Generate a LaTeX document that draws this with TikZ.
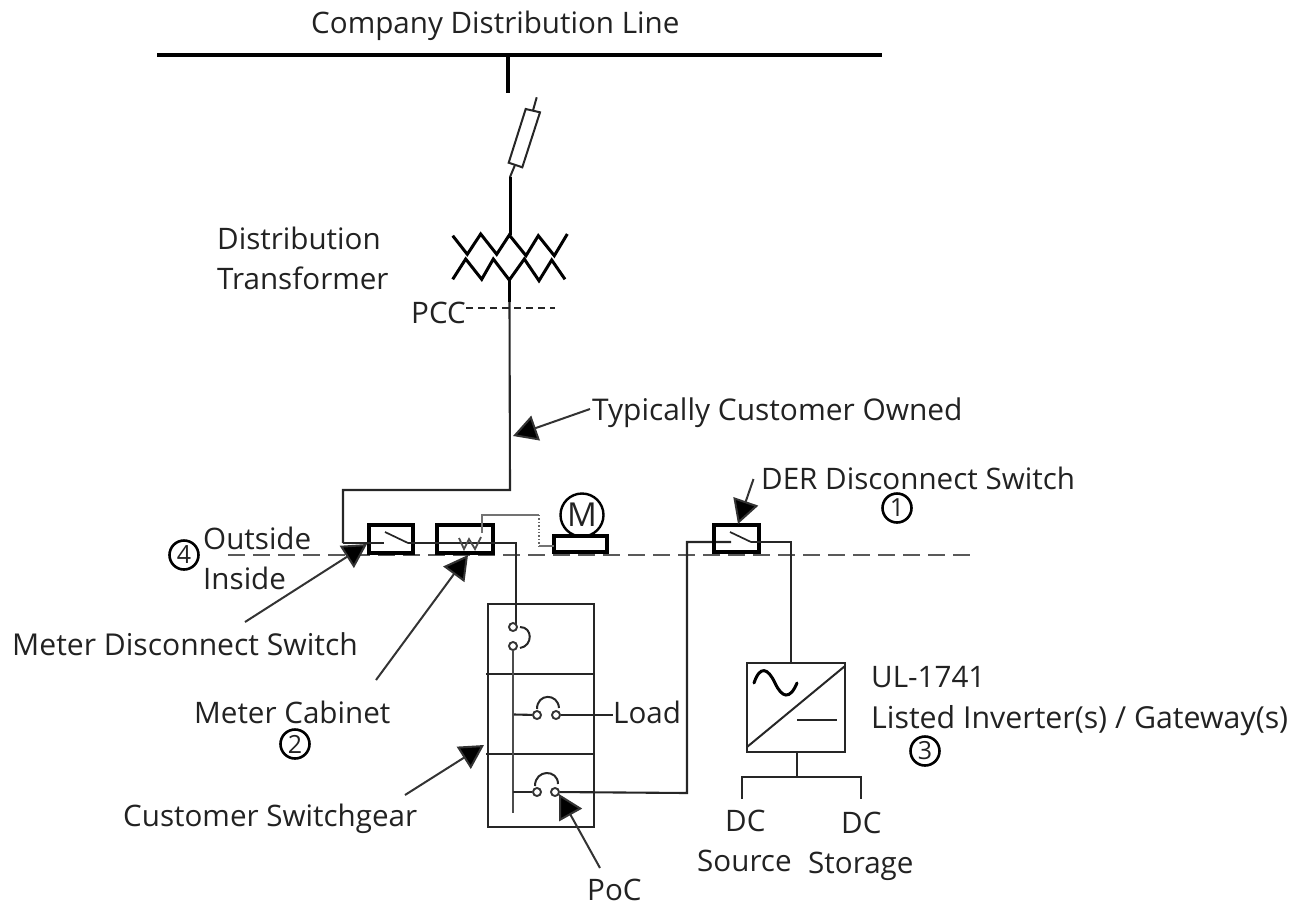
\documentclass[tikz,border=0pt]{standalone}
\usepackage{fontspec}
\setmainfont{Open Sans}
\usetikzlibrary{arrows.meta,calc}
\definecolor{ink}{HTML}{222222}
\tikzset{
  lbl/.style={inner sep=0pt,anchor=base west,text=ink,font=\fontsize{29.6}{34}\selectfont},
  lblw/.style={inner sep=0pt,anchor=base west,text=ink,font=\fontsize{30.1}{34}\selectfont},
  wire/.style={draw=black!85,line width=2.1pt,line join=miter},
  heavy/.style={draw=black,line width=3.2pt},
  thick box/.style={draw=black,line width=3.6pt,fill=none,inner sep=0pt,outer sep=0pt},
  thin box/.style={draw=black!85,line width=2.2pt,inner sep=0pt,outer sep=0pt},
  callout/.style={draw=black!80,line width=2pt,-{Triangle[length=24pt,width=26pt,fill=black]}},
  numc/.style={circle,draw=black,line width=2.6pt,minimum size=29pt,inner sep=0pt,text=ink,font=\fontsize{25}{28}\selectfont},
  term/.style={circle,draw=black!80,line width=1.9pt,minimum size=8pt,inner sep=0pt,fill=white},
}
\begin{document}
\begin{tikzpicture}[x=1pt,y=-1pt]
\useasboundingbox (0,0) rectangle (1302,903);
% labels
\node[lbl] (company) at (311,33) {Company Distribution Line};
\node[lbl] (dist) at (217,249) {Distribution};
\node[lbl] (trans) at (217,289) {Transformer};
\node[lbl] (pcc) at (411,323) {PCC};
\node[lbl,font=\fontsize{29.9}{34}\selectfont] (owned) at (592,420) {Typically Customer Owned};
\node[lbl] (derlbl) at (761,489) {DER Disconnect Switch};
\node[lbl] (outside) at (203,549) {Outside};
\node[lbl] (inside) at (203,589) {Inside};
\node[lblw] (mdslbl) at (12,655) {Meter Disconnect Switch};
\node[lbl] (mclbl) at (194,723) {Meter Cabinet};
\node[lbl] (load) at (613,723) {Load};
\node[lbl] (ul) at (871,687) {UL-1741};
\node[lbl,font=\fontsize{30.3}{34}\selectfont] (listed) at (871,728) {Listed Inverter(s) / Gateway(s)};
\node[lbl] (cslbl) at (123,826) {Customer Switchgear};
\node[lbl] (dc1) at (725,831) {DC};
\node[lbl] (source) at (697,871) {Source};
\node[lbl] (dc2) at (841,833) {DC};
\node[lbl] (storage) at (808,873) {Storage};
\node[lbl] (poclbl) at (587,900) {PoC};
\node[numc] (n1) at (897,508) {1};
\node[numc] (n2) at (295,744) {2};
\node[numc] (n3) at (925,751) {3};
\node[numc] (n4) at (184,555) {4};
% grid line
\coordinate (busL) at (157,55); \coordinate (busR) at (882,55);
\draw[heavy] (busL) -- (busR);
\coordinate (busT) at (508,55); \coordinate (stemB) at (508,93);
\draw[heavy] (busT) -- (stemB);
% fuse
\draw[black!85,line width=2pt,line join=miter] (525.7,109) -- (540,112.3) -- (522.3,167.3) -- (508.7,162.7) -- cycle;
\coordinate (fuseT) at (536.7,97.3); \coordinate (fuseTi) at (533,110.5);
\coordinate (fuseBi) at (515,165); \coordinate (fuseB) at (510,177);
\draw[black!85,line width=2pt] (fuseT) -- (fuseTi);
\draw[black!85,line width=2pt] (fuseBi) -- (fuseB);
\coordinate (xfT) at (510,235);
\draw[black,line width=3pt] (fuseB) -- (xfT);
% transformer
\draw[black,line width=3pt,line join=miter] (452.7,235.7) -- (467.3,254.3) -- (480.7,234) -- (496.7,254.3) -- (509.3,235) -- (526,255.7) -- (538.3,235.7) -- (554.3,255.7) -- (567.3,234);
\draw[black,line width=3pt,line join=miter] (452.7,279.3) -- (465.7,259) -- (481.7,279.3) -- (493.3,259) -- (509.3,280) -- (524.3,259) -- (539,280.7) -- (551.7,260) -- (565,279.3);
\coordinate (xfB) at (509.5,280); \coordinate (xfS) at (509.5,302);
\draw[black,line width=3.2pt] (xfB) -- (xfS);
\coordinate (pccL) at (466,308); \coordinate (pccR) at (555,308);
\draw[black!85,line width=1.5pt,dash pattern=on 7pt off 5pt] (pccL) -- (pccR);
% service
\coordinate (svcCorner) at (510,490); \coordinate (svcL) at (343,490); \coordinate (svcD) at (343,543);
\coordinate (ownedPt) at (513,436);
\draw[wire] (xfS) -- (svcCorner) -- (svcL) -- (svcD);
% outside / inside line
\coordinate (divL) at (228,555); \coordinate (divR) at (972,555);
\draw[draw=black!65,line width=2.8pt,dash pattern=on 17pt off 8pt] (divL) -- (divR);
% meter switch
\node[thick box,minimum width=44pt,minimum height=28pt] (msw) at (391,539) {};
\coordinate (mswA) at (384,543); \coordinate (mswB) at (408,543);
\draw[wire] (svcD) -- (mswA);
\draw[black!85,line width=1.7pt] (385,532) -- (mswB);
% meter cabinet
\node[thick box,minimum width=56pt,minimum height=28pt] (meter) at (465,539) {};
\coordinate (feedC) at (516,543); \coordinate (feedB) at (516,625);
\draw[wire] (mswB) -- (feedC) -- (feedB);
\draw[black!70,line width=1.8pt,line join=miter] (459,538) -- (464,549) -- (469,539) -- (475,549) -- (481,537);
% meter aux
\coordinate (auxA) at (482,533); \coordinate (auxB) at (482,515); \coordinate (auxC) at (539,515); \coordinate (auxD) at (539,546);
\draw[black!55,line width=1.3pt] (auxA) -- (auxB) -- (auxC);
\draw[black!60,line width=1.4pt,dotted] (auxC) -- (auxD);
% motor
\node[thick box,minimum width=53pt,minimum height=16pt] (mbase) at (580.5,544) {};
\draw[black!55,line width=1.3pt] (auxD) -- (mbase.west |- auxD);
\node[circle,draw=black,line width=2.4pt,minimum size=43pt,inner sep=0pt,text=ink,font=\fontsize{33}{36}\selectfont] (motor) at (582,515) {M};
% switchgear
\node[thin box,minimum width=106pt,minimum height=223pt] (gear) at (541,715.5) {};
\coordinate (d1L) at (486,674); \coordinate (d1R) at (594,674);
\coordinate (d2L) at (486,754); \coordinate (d2R) at (594,754);
\draw[wire] (d1L) -- (d1R);
\draw[wire] (d2L) -- (d2R);
% main breaker
\node[term] (b1a) at (513,627) {};
\node[term] (b1b) at (513,646) {};
\draw[black!85,line width=2pt] (520,627) .. controls (533,627) and (533,646) .. (520,648);
% busbar
\coordinate (busbarB) at (513,813);
\draw[black!70,line width=2.6pt] (b1b) -- (busbarB);
% load breaker
\coordinate (t2) at (514,714.5);
\node[term] (b2a) at (537,715) {};
\node[term] (b2b) at (556,715) {};
\draw[wire] (t2) -- (b2a);
\draw[wire] (b2b) -- (load.west |- b2b);
\draw[black!85,line width=2pt] (537,709) .. controls (537,693) and (558,693) .. (559,708);
% DER breaker
\coordinate (t3) at (513,792);
\node[term] (b3a) at (537,792) {};
\node[term] (b3b) at (555,792) {};
\draw[wire] (t3) -- (b3a);
\draw[black!85,line width=2pt] (535,786) .. controls (535,769) and (558,769) .. (558,784);
% DER feed
\coordinate (derC) at (687,793); \coordinate (derT) at (687,542); \coordinate (derA) at (731,542);
\draw[wire] (b3b) -- (derC) -- (derT) -- (derA);
\node[thick box,minimum width=45pt,minimum height=27pt] (dsw) at (736.5,538.5) {};
\coordinate (derB) at (751,542);
\draw[black!85,line width=1.7pt] (730,532) -- (derB);
% inverter
\node[thin box,minimum width=98pt,minimum height=89pt] (inv) at (796,707.5) {};
\coordinate (derR) at (791,542);
\draw[wire] (derB) -- (derR) -- (derR |- inv.north);
\draw[black!85,line width=2pt] ($(inv.south west)+(0,-5)$) -- ($(inv.north east)+(0,3)$);
\draw[black!85,line width=2pt] (797,720) -- (837,720);
\draw[black,line width=3pt,line cap=round] (754,683) .. controls (760,665) and (768,668) .. (775,683) .. controls (782,698) and (790,700) .. (797,683);
% DC bus
\coordinate (invS) at (797,777); \coordinate (dcL) at (742,777); \coordinate (dcR) at (861,777);
\coordinate (dcLb) at (742,799); \coordinate (dcRb) at (861,799);
\draw[wire] (inv.south -| invS) -- (invS);
\draw[wire] (dcLb) -- (dcL) -- (dcR) -- (dcRb);
% callouts
\coordinate (cOwned) at (590,409);
\draw[callout] (cOwned) -- (ownedPt);
\coordinate (cDer) at (753.5,479); \coordinate (tDer) at (738,524);
\draw[callout] (cDer) -- (tDer);
\coordinate (cMds) at (245,622); \coordinate (tMds) at (367,544);
\draw[callout] (cMds) -- (tMds);
\coordinate (cMc) at (376,680); \coordinate (tMc) at (468,555);
\draw[callout] (cMc) -- (tMc);
\coordinate (cCs) at (405,795); \coordinate (tCs) at (484,745);
\draw[callout] (cCs) -- (tCs);
\coordinate (cPoc) at (600,868); \coordinate (tPoc) at (559,794);
\draw[callout] (cPoc) -- (tPoc);
\end{tikzpicture}
\end{document}
